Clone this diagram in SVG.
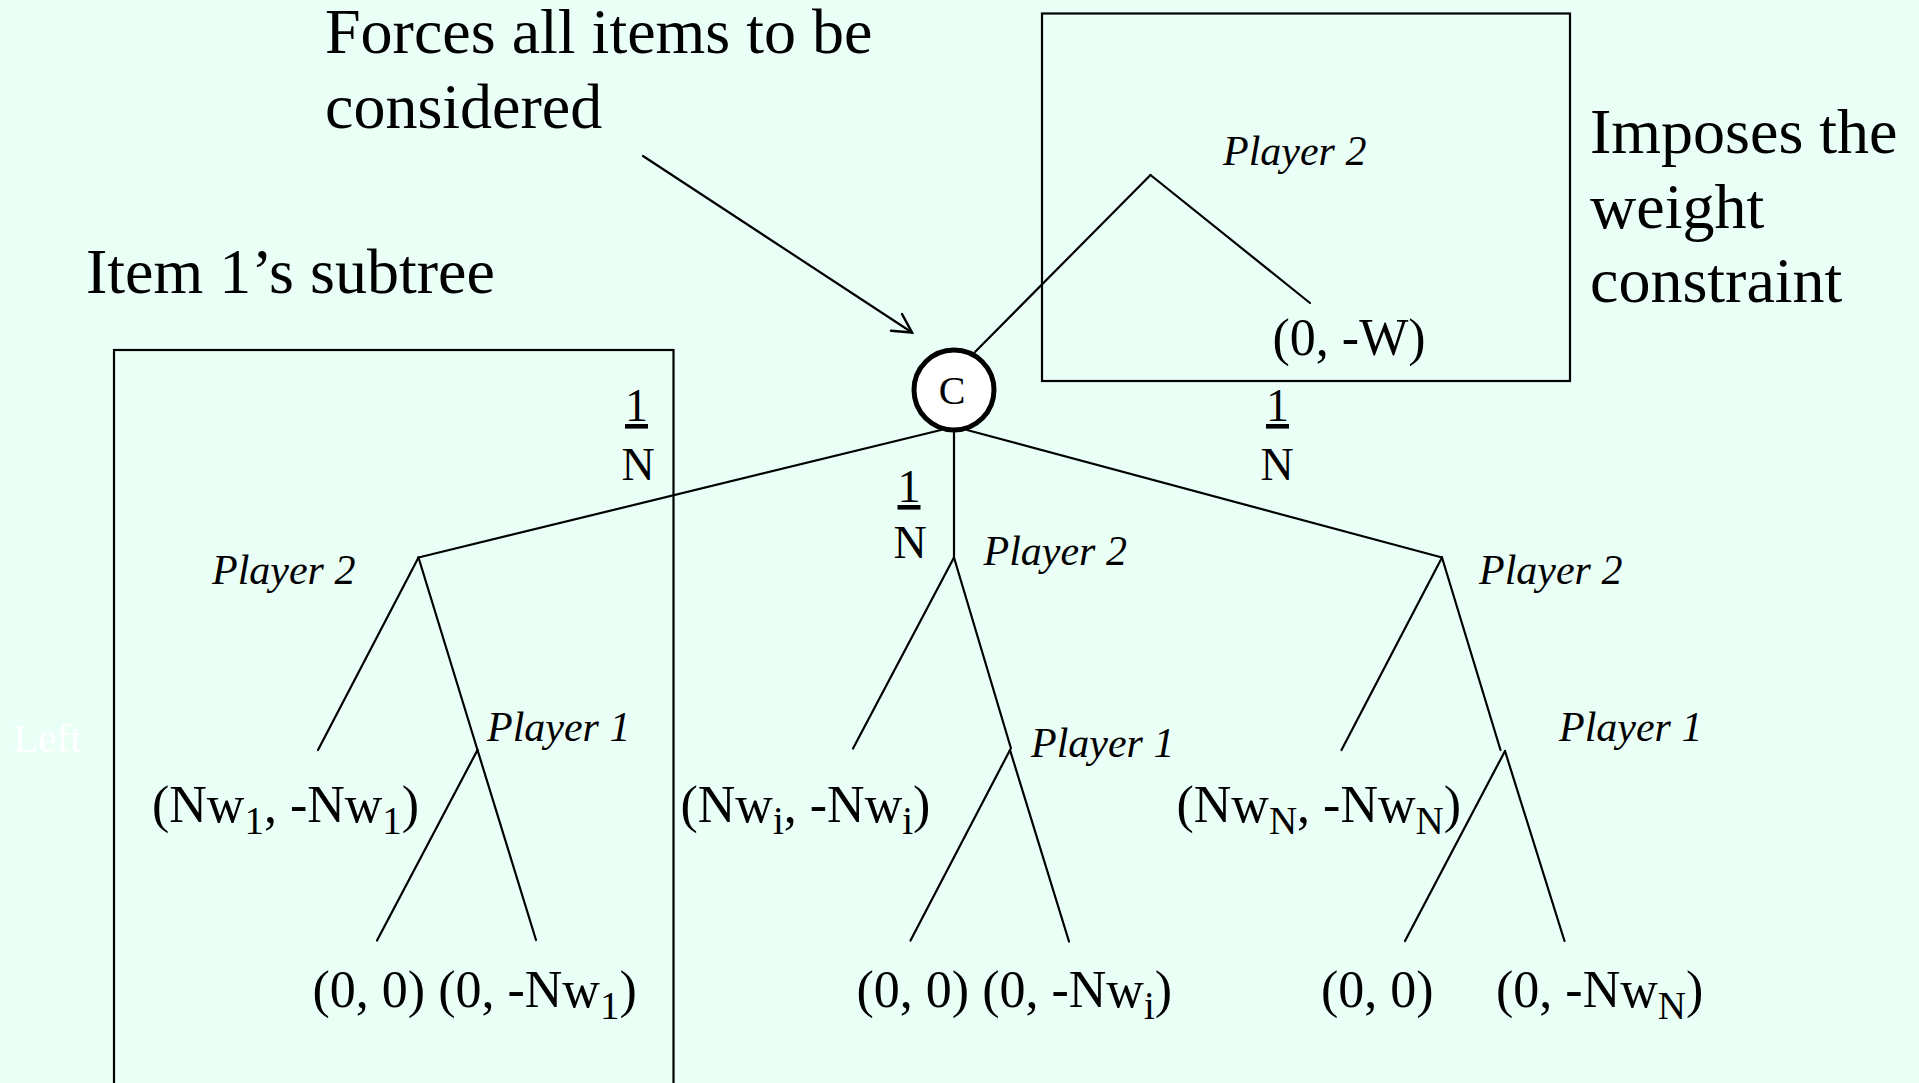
<svg xmlns="http://www.w3.org/2000/svg" width="1919" height="1083" viewBox="0 0 1919 1083">
<style>
  .t { font-family: "Liberation Serif", "Times New Roman", serif; fill: #000; }
  .big { font-size: 64px; }
  .pl { font-size: 42px; font-style: italic; }
  .pay { font-size: 52px; }
  .sub { font-size: 39px; }
  .fr { font-size: 46px; text-anchor: middle; }
  .ln { stroke: #000; stroke-width: 2.2; fill: none; stroke-linecap: round; }
  .box { stroke: #000; stroke-width: 2.2; fill: none; }
</style>
<defs>
  <marker id="open" markerUnits="userSpaceOnUse" viewBox="-22 -13 24 26" refX="0" refY="0" markerWidth="24" markerHeight="26" orient="auto">
    <path d="M-18.5,-10 L0,0 L-18.5,10" fill="none" stroke="#000" stroke-width="2.5" stroke-linecap="round" stroke-linejoin="miter"/>
  </marker>
</defs>
<rect x="0" y="0" width="1919" height="1083" fill="#EAFFF5"/>

<g id="annotations">
  <text class="t big" x="325" y="53">Forces all items to be</text>
  <text class="t big" x="325" y="128">considered</text>
  <text class="t big" x="86" y="293">Item 1’s subtree</text>
  <text class="t big" x="1590" y="153">Imposes the</text>
  <text class="t big" x="1590" y="227.5">weight</text>
  <text class="t big" x="1590" y="302">constraint</text>
  <text class="t" x="13" y="752" font-size="41" fill="#FFFFFF" style="fill:#FFFFFF">Left</text>
</g>

<g id="item1-box"><rect class="box" x="114" y="350" width="559.5" height="760"/></g>
<g id="weight-box"><rect class="box" x="1042" y="13.5" width="528" height="367.5"/></g>

<g id="connectors">
  <line class="ln" x1="643" y1="156" x2="912" y2="332.5" stroke-width="2.5" marker-end="url(#open)"/>
  <line class="ln" x1="975" y1="352" x2="1150.5" y2="175"/>
  <line class="ln" x1="1150.5" y1="175" x2="1310" y2="303"/>
  <line class="ln" x1="941" y1="430" x2="418.5" y2="557.5"/>
  <line class="ln" x1="954" y1="431" x2="954" y2="557.5"/>
  <line class="ln" x1="967" y1="430" x2="1442" y2="557.5"/>
  <line class="ln" x1="418.5" y1="557.5" x2="318" y2="750"/>
  <line class="ln" x1="418.5" y1="557.5" x2="477.5" y2="750"/>
  <line class="ln" x1="477.5" y1="750" x2="377" y2="940.5"/>
  <line class="ln" x1="477.5" y1="750" x2="536" y2="940"/>
  <line class="ln" x1="954" y1="557.5" x2="853" y2="748.5"/>
  <line class="ln" x1="954" y1="557.5" x2="1011" y2="748.5"/>
  <line class="ln" x1="1010" y1="750" x2="910.5" y2="940.5"/>
  <line class="ln" x1="1010" y1="750" x2="1069" y2="941.5"/>
  <line class="ln" x1="1442" y1="557.5" x2="1341.5" y2="750"/>
  <line class="ln" x1="1442" y1="557.5" x2="1500.5" y2="750"/>
  <line class="ln" x1="1505" y1="751" x2="1405" y2="941"/>
  <line class="ln" x1="1505" y1="751" x2="1564.5" y2="941"/>
</g>

<g id="prob-left">
  <text class="t fr" x="636.5" y="421" text-decoration="underline">1</text>
  <text class="t fr" x="638" y="479.5">N</text>
</g>
<g id="prob-mid">
  <text class="t fr" x="909" y="502" text-decoration="underline">1</text>
  <text class="t fr" x="910" y="558">N</text>
</g>
<g id="prob-right">
  <text class="t fr" x="1277.5" y="421" text-decoration="underline">1</text>
  <text class="t fr" x="1277" y="479.5">N</text>
</g>

<g id="chance-node">
  <circle cx="954" cy="390" r="40" fill="#FFFFFF" stroke="#000" stroke-width="5"/>
  <text class="t" x="952" y="404" font-size="40" text-anchor="middle">C</text>
</g>

<g id="top-player2">
  <text class="t pl" x="1223" y="165">Player 2</text>
</g>
<g id="leaf-W">
  <text class="t pay" x="1272.5" y="355">(0, -W)</text>
</g>

<g id="left-player2"><text class="t pl" x="212" y="584">Player 2</text></g>
<g id="left-player1"><text class="t pl" x="487" y="741">Player 1</text></g>
<g id="left-leaf1"><text class="t pay" x="152" y="822">(Nw<tspan class="sub" dy="12">1</tspan><tspan dy="-12">, -Nw</tspan><tspan class="sub" dy="12">1</tspan><tspan dy="-12">)</tspan></text></g>
<g id="left-leaf2"><text class="t pay" x="312.5" y="1007">(0, 0) (0, -Nw<tspan class="sub" dy="12">1</tspan><tspan dy="-12">)</tspan></text></g>

<g id="mid-player2"><text class="t pl" x="983.5" y="565">Player 2</text></g>
<g id="mid-player1"><text class="t pl" x="1031" y="757">Player 1</text></g>
<g id="mid-leaf1"><text class="t pay" x="680.5" y="822">(Nw<tspan class="sub" dy="12">i</tspan><tspan dy="-12">, -Nw</tspan><tspan class="sub" dy="12">i</tspan><tspan dy="-12">)</tspan></text></g>
<g id="mid-leaf2"><text class="t pay" x="856.5" y="1007">(0, 0) (0, -Nw<tspan class="sub" dy="12">i</tspan><tspan dy="-12">)</tspan></text></g>

<g id="right-player2"><text class="t pl" x="1479" y="584">Player 2</text></g>
<g id="right-player1"><text class="t pl" x="1559" y="741">Player 1</text></g>
<g id="right-leaf1"><text class="t pay" x="1176.5" y="822">(Nw<tspan class="sub" dy="12">N</tspan><tspan dy="-12">, -Nw</tspan><tspan class="sub" dy="12">N</tspan><tspan dy="-12">)</tspan></text></g>
<g id="right-leaf2"><text class="t pay" x="1321" y="1007">(0, 0)</text></g>
<g id="right-leaf3"><text class="t pay" x="1496" y="1007">(0, -Nw<tspan class="sub" dy="12">N</tspan><tspan dy="-12">)</tspan></text></g>
</svg>
